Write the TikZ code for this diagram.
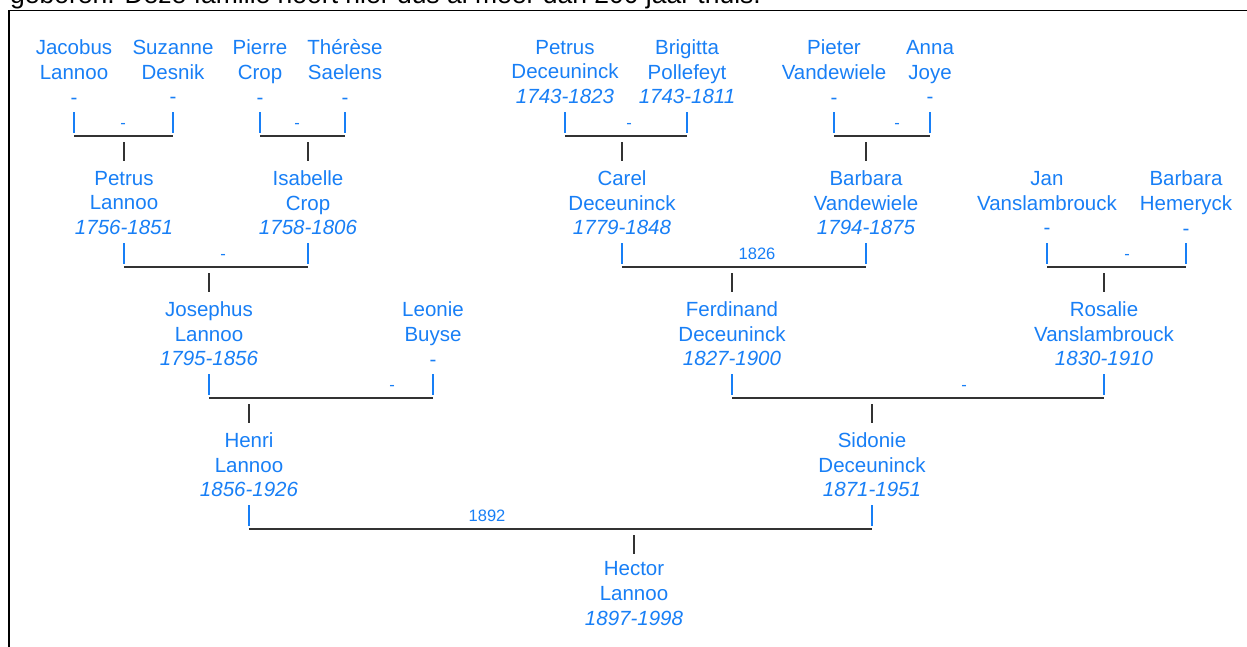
\documentclass[tikz,border=0pt]{standalone}
\usepackage{fontspec}
\setmainfont{Liberation Sans}
\definecolor{nameblue}{RGB}{24,127,246}
\definecolor{linegray}{RGB}{50,50,50}
\newcommand\famlink[6]{%
  \coordinate (fl-bt) at (0,#4-24);
  \coordinate (fl-bb) at (0,#4-3);
  \coordinate (fl-h) at (0,#4);
  \coordinate (fl-ct) at (0,#4+6);
  \coordinate (fl-cb) at (0,#4+25);
  \draw[partnerbar] (#1 |- fl-bt) -- (#1 |- fl-bb);
  \draw[partnerbar] (#2 |- fl-bt) -- (#2 |- fl-bb);
  \draw[marline] (#1 |- fl-h) -- (#2 |- fl-h);
  \draw[childline] (#3 |- fl-ct) -- (#3 |- fl-cb);
  \node[marlabel] (lab-#1) at (#5,#4-7.5) {#6};
}
\begin{document}
\begin{tikzpicture}[x=1pt,y=-1pt,
  person/.style={text=nameblue, align=center, font=\fontsize{20.5}{24.6}\selectfont, inner sep=0pt},
  marlabel/.style={text=nameblue, font=\fontsize{16.5}{18}\selectfont, anchor=base, inner sep=0pt},
  partnerbar/.style={draw=nameblue, line width=1.5pt},
  marline/.style={draw=linegray, line width=1.4pt},
  childline/.style={draw=linegray, line width=1.4pt},
  frameline/.style={draw=black, line width=1.5pt},
  toptext/.style={anchor=base west, inner sep=0pt, font=\fontsize{26.5}{30}\selectfont, text=black}]
\clip (0,0) rectangle (1247,646);
\fill[white] (0,0) rectangle (1247,646);
% cut-off text line above the frame
\node[toptext] (intro) at (10,3.5) {geboren. Deze familie hoort hier dus al meer dan 200 jaar thuis.};
% frame
\coordinate (frTL) at (9,10.5);
\coordinate (frTR) at (1250,10.5);
\coordinate (frBL) at (9,650);
\draw[frameline] (frTR) -- (frTL) -- (frBL);

% generation 5
\node[person] (jacobus)  at (74,72)  {Jacobus\\Lannoo\\-};
\node[person] (suzanne)  at (173,72) {Suzanne\\Desnik\\-};
\node[person] (pierre)   at (260,72) {Pierre\\Crop\\-};
\node[person] (therese)  at (345,72) {Thérèse\\Saelens\\-};
\node[person] (petrusD)  at (565,72) {Petrus\\Deceuninck\\\textit{1743-1823}};
\node[person] (brigitta) at (687,72) {Brigitta\\Pollefeyt\\\textit{1743-1811}};
\node[person] (pieter)   at (834,72) {Pieter\\Vandewiele\\-};
\node[person] (anna)     at (930,72) {Anna\\Joye\\-};

% generation 4
\node[person] (petrusL)  at (124,203)  {Petrus\\Lannoo\\\textit{1756-1851}};
\node[person] (isabelle) at (308,203)  {Isabelle\\Crop\\\textit{1758-1806}};
\node[person] (carel)    at (622,203)  {Carel\\Deceuninck\\\textit{1779-1848}};
\node[person] (barbaraV) at (866,203)  {Barbara\\Vandewiele\\\textit{1794-1875}};
\node[person] (jan)      at (1047,203) {Jan\\Vanslambrouck\\-};
\node[person] (barbaraH) at (1186,203) {Barbara\\Hemeryck\\-};

% generation 3
\node[person] (josephus)  at (209,334)  {Josephus\\Lannoo\\\textit{1795-1856}};
\node[person] (leonie)    at (433,334)  {Leonie\\Buyse\\-};
\node[person] (ferdinand) at (732,334)  {Ferdinand\\Deceuninck\\\textit{1827-1900}};
\node[person] (rosalie)   at (1104,334) {Rosalie\\Vanslambrouck\\\textit{1830-1910}};

% generation 2
\node[person] (henri)   at (249,465) {Henri\\Lannoo\\\textit{1856-1926}};
\node[person] (sidonie) at (872,465) {Sidonie\\Deceuninck\\\textit{1871-1951}};

% generation 1
\node[person] (hector) at (634,593.5) {Hector\\Lannoo\\\textit{1897-1998}};

% links
\famlink{jacobus}{suzanne}{petrusL}{136}{123}{-}
\famlink{pierre}{therese}{isabelle}{136}{297}{-}
\famlink{petrusD}{brigitta}{carel}{136}{629}{-}
\famlink{pieter}{anna}{barbaraV}{136}{897}{-}
\famlink{petrusL}{isabelle}{josephus}{267}{223}{-}
\famlink{carel}{barbaraV}{ferdinand}{267}{757}{1826}
\famlink{jan}{barbaraH}{rosalie}{267}{1127}{-}
\famlink{josephus}{leonie}{henri}{398}{392}{-}
\famlink{ferdinand}{rosalie}{sidonie}{398}{964}{-}
\famlink{henri}{sidonie}{hector}{529}{487}{1892}
\end{tikzpicture}
\end{document}
